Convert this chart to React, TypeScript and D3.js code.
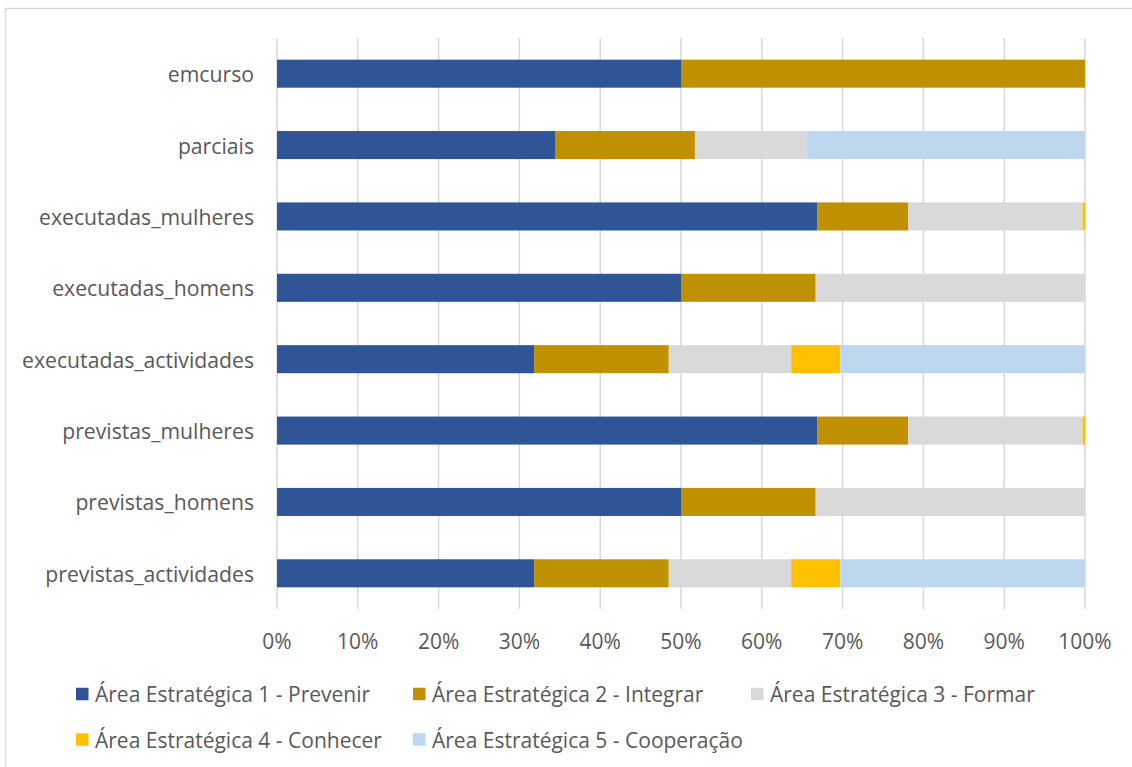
import React from "react";
import * as d3 from "d3";

const categories = [
  "emcurso",
  "parciais",
  "executadas_mulheres",
  "executadas_homens",
  "executadas_actividades",
  "previstas_mulheres",
  "previstas_homens",
  "previstas_actividades",
];

const seriesNames = [
  "Área Estratégica 1 - Prevenir",
  "Área Estratégica 2 - Integrar",
  "Área Estratégica 3 - Formar",
  "Área Estratégica 4 - Conhecer",
  "Área Estratégica 5 - Cooperação",
];

// Values per category (same order as categories), one array per strategic area
const area1 = [2, 10, 669, 3, 21, 669, 3, 21];
const area2 = [2, 5, 112, 1, 11, 112, 1, 11];
const area3 = [0, 4, 216, 2, 10, 216, 2, 10];
const area4 = [0, 0, 3, 0, 4, 3, 0, 4];
const area5 = [0, 10, 0, 0, 20, 0, 0, 20];

const tickValues = [0, 0.1, 0.2, 0.3, 0.4, 0.5, 0.6, 0.7, 0.8, 0.9, 1];

const colors = ["#2f5597", "#bf9000", "#d9d9d9", "#ffc000", "#bdd7ee"];

const W = 1132;
const H = 767;
const FONT = "'Open Sans', sans-serif";

export default function App() {
  const seriesValues = [area1, area2, area3, area4, area5];
  const rows = categories.map((c, i) => {
    const row: Record<string, number | string> = { cat: c };
    seriesNames.forEach((s, k) => (row[s] = seriesValues[k][i]));
    return row;
  });

  const stack = d3
    .stack<Record<string, number | string>>()
    .keys(seriesNames)
    .value((d, key) => d[key] as number)
    .offset(d3.stackOffsetExpand);
  const stacked = stack(rows);

  const x = d3.scaleLinear().domain([0, 1]).range([277, 1085]);
  const y = d3
    .scaleBand<string>()
    .domain(categories)
    .range([38, 609])
    .paddingInner(0.607)
    .paddingOuter(0.3035);

  const legendPos = [
    [76, 694],
    [413, 694],
    [751, 694],
    [76, 739.5],
    [413, 739.5],
  ];

  return (
    <svg
      width={W}
      height={H}
      style={{ position: "absolute", left: 0, top: 0, background: "#fff" }}
    >
      <rect x={5.5} y={8.5} width={W + 20} height={H + 20} fill="#fff" stroke="#d9d9d9" strokeWidth={1.5} />

      {/* vertical gridlines */}
      {tickValues.map((t) => (
        <line
          key={t}
          x1={x(t)}
          x2={x(t)}
          y1={38}
          y2={609}
          stroke="#d9d9d9"
          strokeWidth={1.5}
        />
      ))}

      {/* stacked bars */}
      {stacked.map((layer, k) => (
        <g key={layer.key} fill={colors[k]}>
          {layer.map((d, i) => {
            const w = x(d[1]) - x(d[0]);
            if (w <= 0) return null;
            return (
              <rect
                key={i}
                x={x(d[0])}
                y={y(categories[i])!}
                width={w}
                height={y.bandwidth()}
              />
            );
          })}
        </g>
      ))}

      {/* category labels */}
      {categories.map((c) => (
        <text
          key={c}
          x={254}
          y={y(c)! + y.bandwidth() / 2}
          textAnchor="end"
          dominantBaseline="central"
          fontFamily={FONT}
          fontSize={21.2}
          fill="#595959"
        >
          {c}
        </text>
      ))}

      {/* x-axis tick labels */}
      {tickValues.map((t) => (
        <text
          key={t}
          x={x(t)}
          y={641}
          textAnchor="middle"
          dominantBaseline="central"
          fontFamily={FONT}
          fontSize={21}
          fill="#595959"
        >
          {d3.format(".0%")(t)}
        </text>
      ))}

      {/* legend */}
      {seriesNames.map((s, k) => (
        <g key={s} transform={`translate(${legendPos[k][0]},${legendPos[k][1]})`}>
          <rect x={0} y={-6.25} width={12.5} height={12.5} fill={colors[k]} />
          <text
            x={19}
            y={0}
            dominantBaseline="central"
            fontFamily={FONT}
            fontSize={21}
            fill="#595959"
          >
            {s}
          </text>
        </g>
      ))}
    </svg>
  );
}
